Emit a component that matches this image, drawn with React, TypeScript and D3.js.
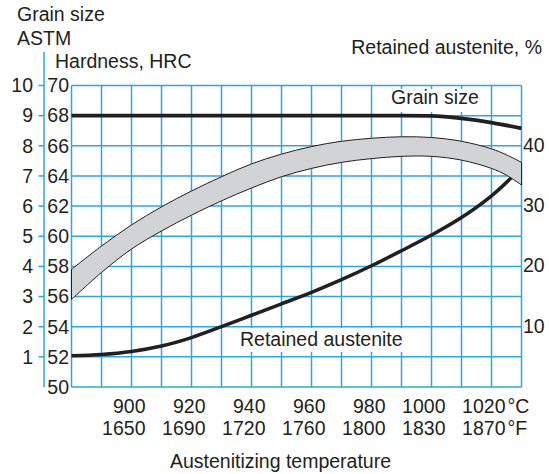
import React from "react";
import * as d3 from "d3";

// ---- Data ----
const tempsC = [900, 920, 940, 960, 980, 1000, 1020];
const tempsF = [1650, 1690, 1720, 1760, 1800, 1830, 1870];
const hrcTicks = [50, 52, 54, 56, 58, 60, 62, 64, 66, 68, 70];
const astmTicks = [1, 2, 3, 4, 5, 6, 7, 8, 9, 10];
const raTicks = [10, 20, 30, 40];

const grainTemps = [880, 990, 1000, 1010, 1020, 1030];
const grainASTM = [9, 9, 8.99, 8.91, 8.77, 8.58];

const raTemps = [880, 890, 900, 910, 920, 930, 940, 950, 960, 970, 980, 990, 1000, 1010, 1020, 1027];
const raValues = [5.2, 5.4, 5.9, 6.8, 8.2, 10.0, 11.9, 13.8, 15.7, 17.8, 20.1, 22.6, 25.2, 28.1, 31.7, 34.9];

const bandTemps = [880, 890, 900, 910, 920, 930, 940, 950, 960, 970, 980, 990, 1000, 1010, 1020, 1025, 1030];
const bandUpper = [57.8, 59.35, 60.75, 61.95, 63.0, 63.95, 64.8, 65.45, 65.95, 66.3, 66.5, 66.6, 66.55, 66.3, 65.8, 65.4, 64.9];
const bandLower = [55.8, 57.6, 59.15, 60.35, 61.4, 62.35, 63.2, 63.95, 64.5, 64.9, 65.15, 65.3, 65.3, 65.05, 64.5, 64.05, 63.4];

const FONT = "'Liberation Sans', Arial, Helvetica, sans-serif";
const INK = "#231f20";
const BLUE = "#2aa8e0";

export default function App() {
  const x = d3.scaleLinear().domain([880, 1030]).range([71.5, 521.5]);
  const yH = d3.scaleLinear().domain([50, 70]).range([387, 85.5]);
  const yA = d3.scaleLinear().domain([0, 10]).range([387, 85.5]);
  const yR = d3.scaleLinear().domain([0, 50]).range([387, 85.5]);

  const gridX = d3.range(880, 1031, 10);

  const bandData = bandTemps.map((t, i) => ({ t, u: bandUpper[i], l: bandLower[i] }));
  const bandPath = d3
    .area<{ t: number; u: number; l: number }>()
    .x((d) => x(d.t))
    .y0((d) => yH(d.l))
    .y1((d) => yH(d.u))
    .curve(d3.curveCatmullRom.alpha(0.5))(bandData) as string;

  const grainPath = d3
    .line<number>()
    .x((_, i) => x(grainTemps[i]))
    .y((d) => yA(d))
    .curve(d3.curveMonotoneX)(grainASTM) as string;

  const raPath = d3
    .line<number>()
    .x((_, i) => x(raTemps[i]))
    .y((d) => yR(d))
    .curve(d3.curveCatmullRom.alpha(0.5))(raValues) as string;

  const fs = 19.5;

  return (
    <svg
      width={549}
      height={474}
      style={{ position: "absolute", left: 0, top: 0, background: "#fff" }}
      fontFamily={FONT}
      fontSize={fs}
      fill={INK}
    >
      <rect x={0} y={0} width={549} height={474} fill="#fff" />
      {/* grid */}
      <g stroke={BLUE} strokeWidth={1.5}>
        {gridX.map((t) => (
          <line key={"gx" + t} x1={x(t)} x2={x(t)} y1={yH(70)} y2={yH(50)} />
        ))}
        {hrcTicks.map((h) => (
          <line key={"gy" + h} x1={x(880)} x2={x(1030)} y1={yH(h)} y2={yH(h)} />
        ))}
        {/* ASTM axis */}
        <line x1={44} x2={44} y1={52} y2={yH(50)} />
        {astmTicks.map((a) => (
          <line key={"at" + a} x1={38.5} x2={44} y1={yA(a)} y2={yA(a)} />
        ))}
      </g>

      {/* retained austenite line (under band) */}
      <path d={raPath} fill="none" stroke={INK} strokeWidth={3.5} strokeLinecap="butt" />

      {/* hardness band */}
      <path d={bandPath} fill="#d1d3d4" stroke={INK} strokeWidth={1} />

      {/* grain size line */}
      <path d={grainPath} fill="none" stroke={INK} strokeWidth={3.8} />

      {/* in-plot labels */}
      <rect x={387} y={89} width={94} height={23} fill="#fff" />
      <text x={391} y={104}>Grain size</text>
      <rect x={237} y={328} width={170} height={24} fill="#fff" />
      <text x={240} y={346}>Retained austenite</text>

      {/* left tick labels */}
      {hrcTicks.map((h) => (
        <text key={"hl" + h} x={69} y={yH(h)} dy="0.35em" textAnchor="end">
          {h}
        </text>
      ))}
      {astmTicks.map((a) => (
        <text key={"al" + a} x={33} y={yA(a)} dy="0.35em" textAnchor="end">
          {a}
        </text>
      ))}
      {/* right tick labels */}
      {raTicks.map((r) => (
        <text key={"rl" + r} x={523} y={yR(r)} dy="0.3em" textAnchor="start">
          {r}
        </text>
      ))}

      {/* bottom labels */}
      {tempsC.map((t) => (
        <text key={"c" + t} x={x(t) + 14} y={413} textAnchor="end">
          {t}
        </text>
      ))}
      {tempsF.map((t, i) => (
        <text key={"f" + t} x={x(tempsC[i]) + 14} y={435} textAnchor="end">
          {t}
        </text>
      ))}
      <text x={x(1020) + 16} y={413}>°C</text>
      <text x={x(1020) + 16} y={435}>°F</text>
      <text x={280.5} y={468} textAnchor="middle">Austenitizing temperature</text>

      {/* axis titles */}
      <text x={17} y={21}>Grain size</text>
      <text x={17} y={45}>ASTM</text>
      <text x={55} y={68}>Hardness, HRC</text>
      <text x={542} y={54} textAnchor="end">Retained austenite, %</text>
    </svg>
  );
}
